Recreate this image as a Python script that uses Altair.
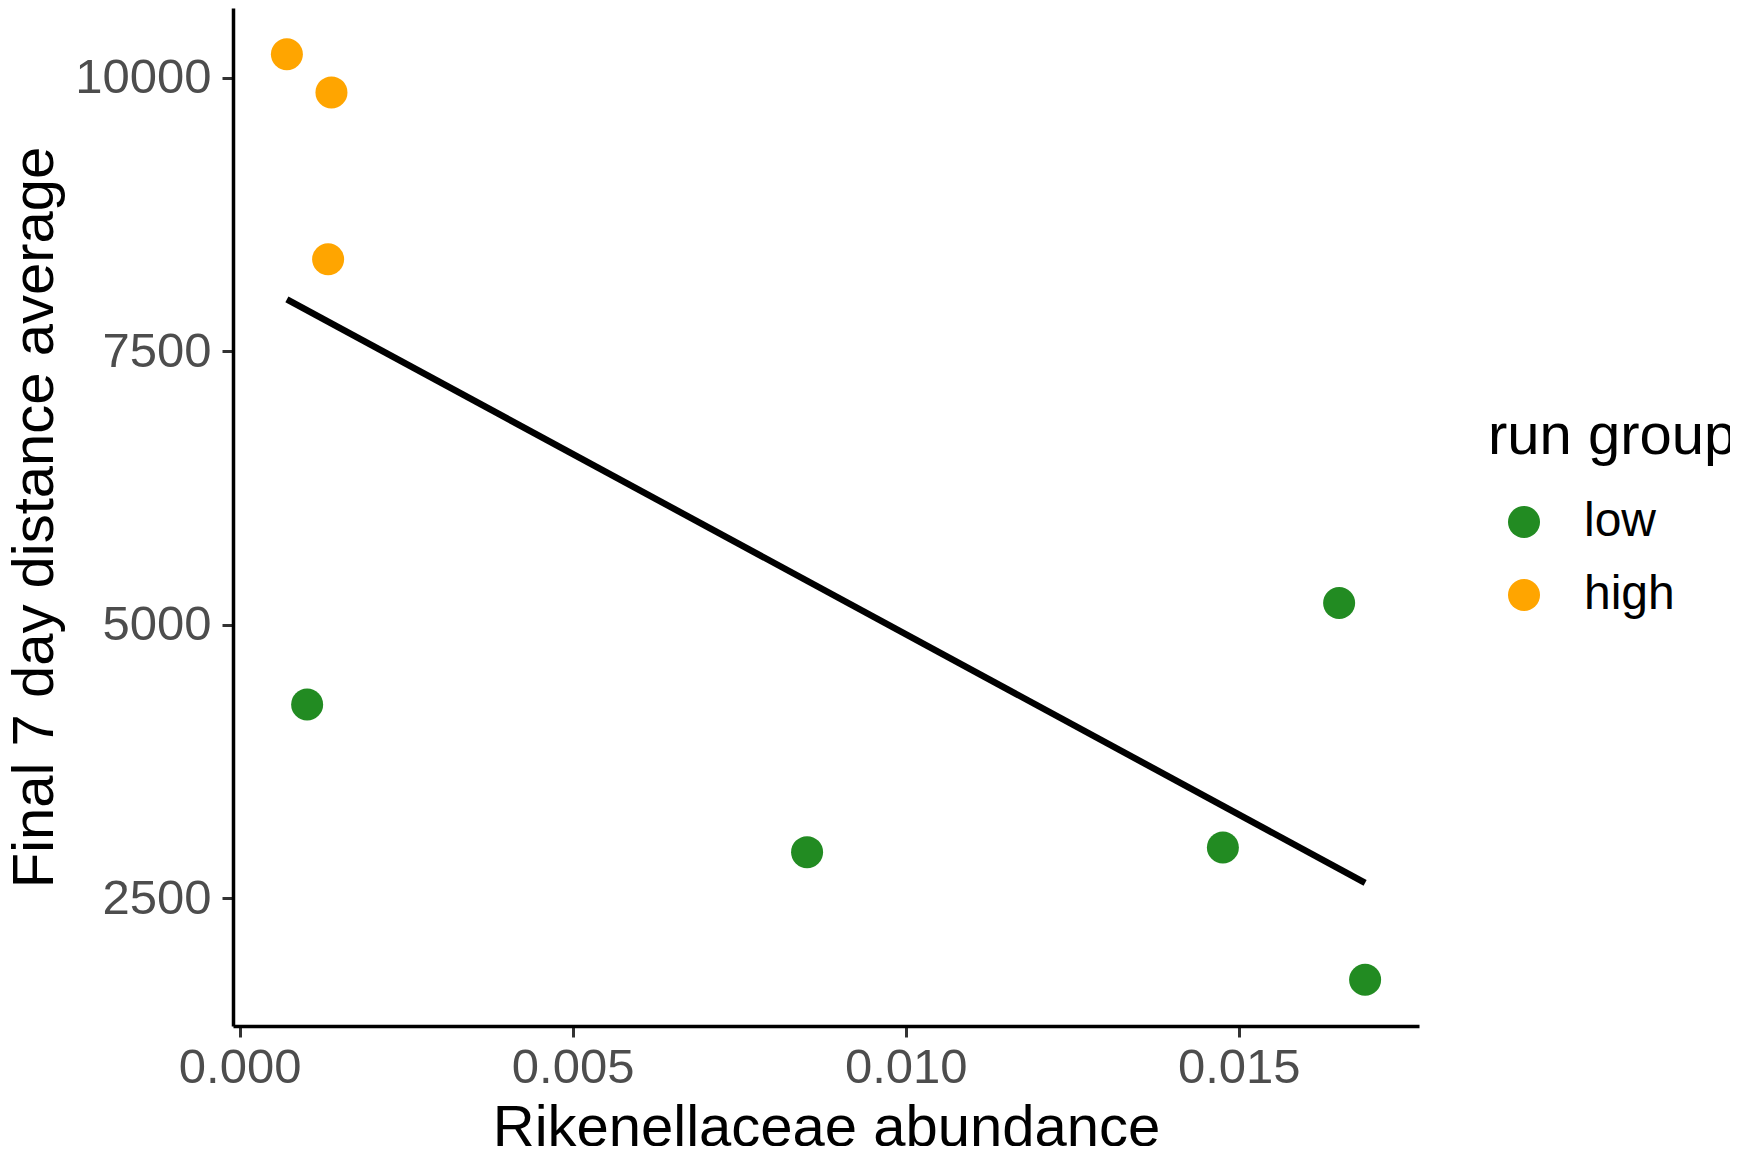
import altair as alt
import pandas as pd

# Data
abundance = [0.000710, 0.001379, 0.001329, 0.001014, 0.008519, 0.014761, 0.016506, 0.016896]
distance = [10217, 9868, 8342, 4270, 2920, 2963, 5198, 1753]
run_group = ["high", "high", "high", "low", "low", "low", "low", "low"]

group_order = ["low", "high"]
group_colors = ["#228B22", "#FFA500"]
x_ticks = [0.0, 0.005, 0.010, 0.015]
y_ticks = [2500, 5000, 7500, 10000]
x_domain = [-0.000099, 0.017705]
y_domain = [1330, 10640]

df = pd.DataFrame({"abundance": abundance, "distance": distance, "run_group": run_group})

FONT = "Liberation Sans"

x_axis = alt.Axis(
    values=x_ticks, format=".3f", grid=False,
    domainColor="black", domainWidth=3.5,
    tickColor="#333333", tickWidth=3, tickSize=11,
    labelColor="#4D4D4D", labelFontSize=49, labelPadding=6, labelFont=FONT,
    titleFontSize=58, titleColor="black", titleFontWeight="normal", titleFont=FONT,
    titleX=593, titleY=119, titleBaseline="alphabetic", titleAlign="center",
)
y_axis = alt.Axis(
    values=y_ticks, format="d", grid=False,
    domainColor="black", domainWidth=3.5,
    tickColor="#333333", tickWidth=3, tickSize=11,
    labelColor="#4D4D4D", labelFontSize=49, labelPadding=11, labelFont=FONT,
    titleFontSize=58, titleColor="black", titleFontWeight="normal", titleFont=FONT,
    titleX=-181, titleY=509, titleAngle=270, titleBaseline="alphabetic", titleAlign="center",
)

x_enc = alt.X("abundance:Q", title="Rikenellaceae abundance",
              scale=alt.Scale(domain=x_domain, nice=False, zero=False), axis=x_axis)
y_enc = alt.Y("distance:Q", title="Final 7 day distance average",
              scale=alt.Scale(domain=y_domain, nice=False, zero=False), axis=y_axis)

points = alt.Chart(df).mark_circle(size=1024, opacity=1).encode(
    x=x_enc,
    y=y_enc,
    color=alt.Color(
        "run_group:N",
        scale=alt.Scale(domain=group_order, range=group_colors),
        legend=alt.Legend(
            title="run group", orient="none", legendX=1255, legendY=400,
            titleFontSize=58, titleFontWeight="normal", titleColor="black", titleFont=FONT,
            titleLimit=2000, titlePadding=32,
            labelFontSize=48, labelColor="black", labelFont=FONT, labelLimit=2000,
            symbolType="circle", symbolSize=1024, symbolStrokeWidth=0, symbolOpacity=1,
            symbolOffset=12, labelOffset=36, rowPadding=25, padding=0,
        ),
    ),
)

line = alt.Chart(df).transform_regression("abundance", "distance").mark_line(
    color="black", strokeWidth=6.5
).encode(x=x_enc, y=y_enc)

chart = alt.layer(points, line).properties(
    width=1186, height=1018,
    autosize=alt.AutoSizeParams(type="none"),
    padding={"left": 225, "top": 0, "right": 311, "bottom": 120},
    background="white",
).configure(font=FONT).configure_view(stroke="transparent", strokeWidth=0)

chart.save("out.html", embed_options={"renderer": "svg", "actions": False})
